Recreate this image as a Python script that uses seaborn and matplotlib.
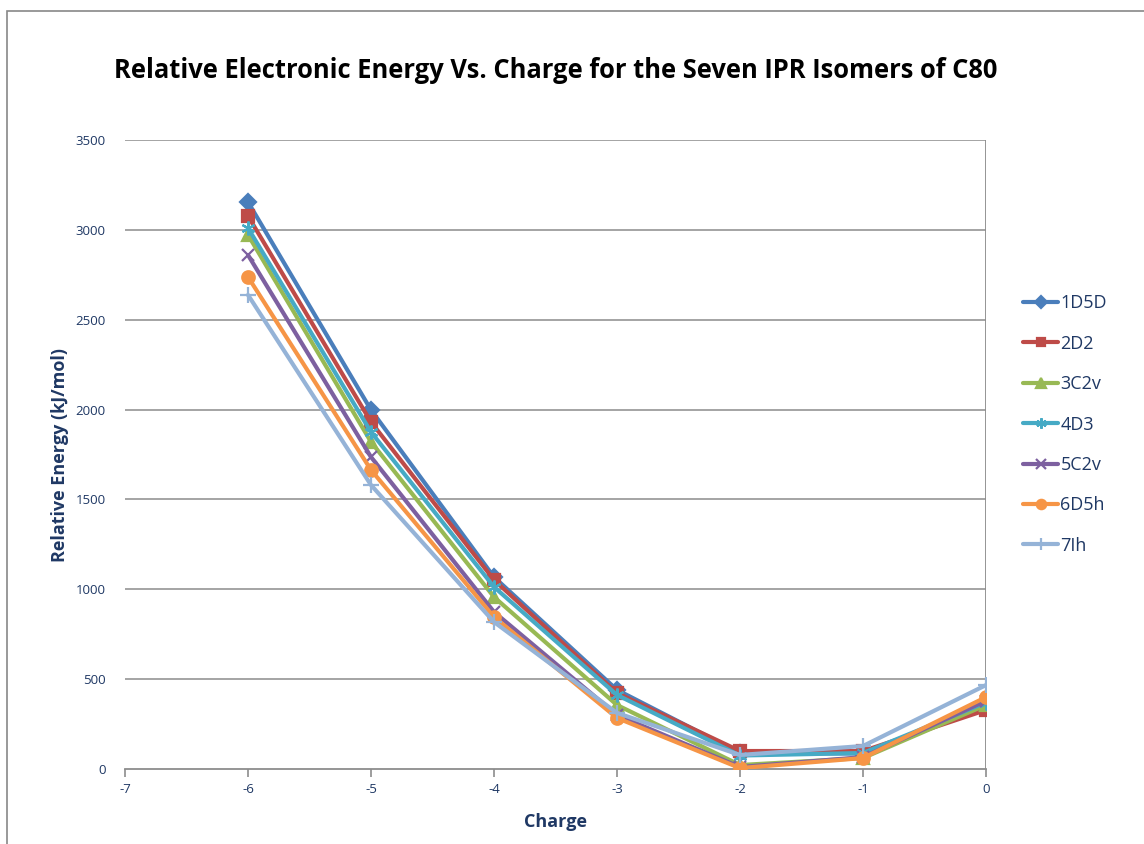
import matplotlib
matplotlib.use("Agg")
import matplotlib.pyplot as plt
import seaborn as sns
import pandas as pd
from matplotlib.patches import Rectangle

charges = [-6, -5, -4, -3, -2, -1, 0]
isomers = ["1D5D", "2D2", "3C2v", "4D3", "5C2v", "6D5h", "7Ih"]

e_1d5d = [3155, 1998, 1068, 440, 89, 86, 345]
e_2d2 = [3077, 1931, 1052, 423, 100, 100, 328]
e_3c2v = [2972, 1820, 957, 356, 22, 61, 356]
e_4d3 = [3010, 1875, 1013, 412, 75, 89, 370]
e_5c2v = [2860, 1736, 874, 300, 11, 66, 380]
e_6d5h = [2738, 1664, 846, 284, 5, 61, 400]
e_7ih = [2638, 1580, 818, 312, 78, 128, 467]

y_ticks = [0, 500, 1000, 1500, 2000, 2500, 3000, 3500]
x_ticks = [-7, -6, -5, -4, -3, -2, -1, 0]

series = [e_1d5d, e_2d2, e_3c2v, e_4d3, e_5c2v, e_6d5h, e_7ih]
rows = []
for name, vals in zip(isomers, series):
    for c, v in zip(charges, vals):
        rows.append({"Charge": c, "Energy": v, "Isomer": name})
df = pd.DataFrame(rows)

palette = {
    "1D5D": "#4A7EBB",
    "2D2": "#BE4B48",
    "3C2v": "#98B954",
    "4D3": "#46AAC5",
    "5C2v": "#7D60A0",
    "6D5h": "#F69546",
    "7Ih": "#95B3D7",
}
asterisk = (6, 2, 0)
markers = {
    "1D5D": "D",
    "2D2": "s",
    "3C2v": "^",
    "4D3": asterisk,
    "5C2v": "x",
    "6D5h": "o",
    "7Ih": "+",
}
sizes = {"1D5D": 8, "2D2": 8.5, "3C2v": 9, "4D3": 10, "5C2v": 9, "6D5h": 9, "7Ih": 11}

sns.set_theme(style="white")
plt.rcParams["font.family"] = ["Open Sans", "DejaVu Sans"]

navy = "#1F3864"
grid_c = "#8C8C8C"

fig = plt.figure(figsize=(11.44, 8.44), dpi=100)
W, H = 1144, 844
ax = fig.add_axes([125 / W, 1 - 769 / H, (986 - 125) / W, (769 - 140) / H])

# outer chart frame
fig.patches.append(Rectangle((7 / W, -0.01), 1.2, 1 - 11 / H + 0.01,
                             transform=fig.transFigure, fill=False,
                             edgecolor="#888888", linewidth=1.2))

for name in isomers:
    sub = df[df["Isomer"] == name]
    sns.lineplot(data=sub, x="Charge", y="Energy", ax=ax, color=palette[name],
                 marker=markers[name], markersize=sizes[name],
                 markeredgecolor=palette[name], markeredgewidth=1.6,
                 linewidth=3, label=name, zorder=3)

ax.set_xlim(-7, 0)
ax.set_ylim(0, 3500)
ax.set_xticks(x_ticks)
ax.set_yticks(y_ticks)
ax.set_xticklabels([str(t) for t in x_ticks])
ax.set_yticklabels([str(t) for t in y_ticks])

for s in ["top", "left", "right"]:
    ax.spines[s].set_visible(False)
ax.spines["bottom"].set_color(grid_c)
ax.spines["bottom"].set_linewidth(1.3)
ax.axvline(0, color=grid_c, linewidth=1.3, zorder=1)
for yv in y_ticks[1:]:
    ax.axhline(yv, color=grid_c, linewidth=1.1, zorder=1)

ax.tick_params(axis="x", direction="out", length=6, width=1.2, color=grid_c,
               labelsize=9.5, labelcolor=navy, pad=4, bottom=True)
ax.tick_params(axis="y", length=0, labelsize=9.5, labelcolor=navy, pad=14)

ax.set_xlabel("Charge", fontsize=13, fontweight="bold", color=navy)
ax.set_ylabel("Relative Energy (kJ/mol)", fontsize=13, fontweight="bold", color=navy)
ax.yaxis.set_label_coords((60 - 125) / 861, 0.5)
ax.xaxis.set_label_coords(0.5, -(822 - 769) / 629)
ax.xaxis.label.set_va("center")
ax.yaxis.label.set_va("center")

fig.text(556 / W, 1 - 70 / H,
         "Relative Electronic Energy Vs. Charge for the Seven IPR Isomers of C80",
         ha="center", va="center", fontsize=18.4, fontweight="bold", color="black")

leg = ax.legend(loc="upper left", bbox_to_anchor=(1.035, 0.766), frameon=False,
                fontsize=13, labelspacing=1.24, handlelength=1.9, handletextpad=0.15,
                markerscale=0.75, borderaxespad=0)
for t in leg.get_texts():
    t.set_color(navy)

fig.savefig("out.png", dpi=100, facecolor="white")
